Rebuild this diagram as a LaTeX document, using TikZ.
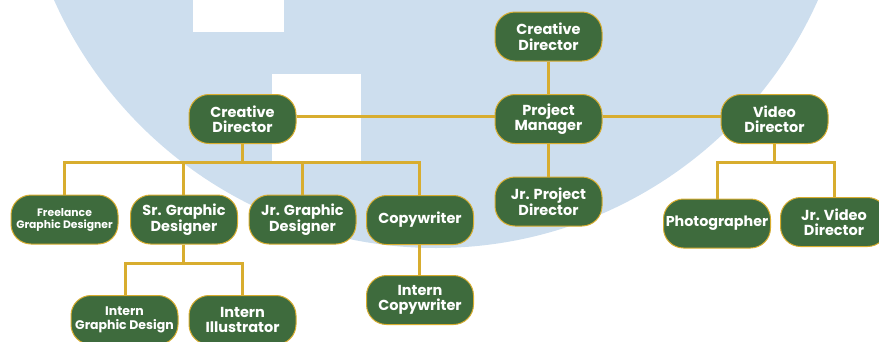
\documentclass[tikz,border=0pt]{standalone}
\usepackage{fontspec}
\setmainfont{Poppins}
\definecolor{bgblue}{HTML}{CDDEEE}
\definecolor{boxgreen}{HTML}{3E6B3D}
\definecolor{gold}{HTML}{D8AD2F}
\begin{document}
\begin{tikzpicture}[x=1pt,y=-1pt,
  role/.style={draw=gold, line width=1pt, fill=boxgreen, rounded corners=20pt,
    minimum width=107pt, minimum height=49pt, inner sep=1pt, align=center,
    text=white, font=\fontsize{14.5}{15.5}\selectfont\bfseries},
  rolesmall/.style={role, font=\fontsize{10.8}{12}\selectfont\bfseries},
  link/.style={draw=gold, line width=3pt}]
\useasboundingbox (0,0) rectangle (879,341);
\clip (0,0) rectangle (879,341);
% background
\fill[bgblue] (436,-170) circle (418);
\fill[white] (193,-5) rectangle (284,32);
\fill[white] (272,74) rectangle (361,163);
% bus coordinates
\coordinate (b1) at (242.5,162);
\coordinate (b2) at (183,263);
\coordinate (b3) at (774.5,162);
% nodes
\node[role] (cdt) at (548.5,36.5) {Creative\\Director};
\node[role] (pm) at (548.5,119) {Project\\Manager};
\node[role] (vd) at (774.5,119) {Video\\Director};
\node[role] (cdl) at (242.5,119) {Creative\\Director};
\node[rolesmall] (fl) at (64.5,219.5) {Freelance\\Graphic Designer};
\node[role] (sr) at (184,219.5) {Sr. Graphic\\Designer};
\node[role] (jg) at (302.5,219.5) {Jr. Graphic\\Designer};
\node[role] (cw) at (420,220) {Copywriter};
\node[role] (ic) at (420,300) {Intern\\Copywriter};
\node[rolesmall, font=\fontsize{12.5}{13.5}\selectfont\bfseries] (ig) at (124.5,320) {Intern\\Graphic Design};
\node[role] (ii) at (242.5,320) {Intern\\Illustrator};
\node[role] (jpd) at (548.5,201.5) {Jr. Project\\Director};
\node[role, font=\fontsize{14.3}{15.5}\selectfont\bfseries] (ph) at (717,223.5) {Photographer};
\node[role] (jv) at (834,222) {Jr. Video\\Director};
% connectors
\draw[link] (cdt) -- (pm);
\draw[link] (cdl.east |- 0,116) -- (pm.west |- 0,116);
\draw[link] (pm.east |- 0,116) -- (vd.west |- 0,116);
\draw[link] (pm) -- (jpd);
\draw[link] (cdl) -- (b1);
\draw[link] (fl.north -| 64,0) |- (b1) -| (cw.north -| 419,0);
\draw[link] (sr.north -| 183,0) -- (b1 -| 183,0);
\draw[link] (jg.north -| 302,0) -- (b1 -| 302,0);
\draw[link] (cw.south -| 419,0) -- (ic.north -| 419,0);
\draw[link] (sr.south -| 183,0) -- (b2);
\draw[link] (ig.north -| 125,0) |- (b2) -| (ii.north);
\draw[link] (vd) -- (b3);
\draw[link] (ph.north) |- (b3) -| (jv.north);
\end{tikzpicture}
\end{document}
